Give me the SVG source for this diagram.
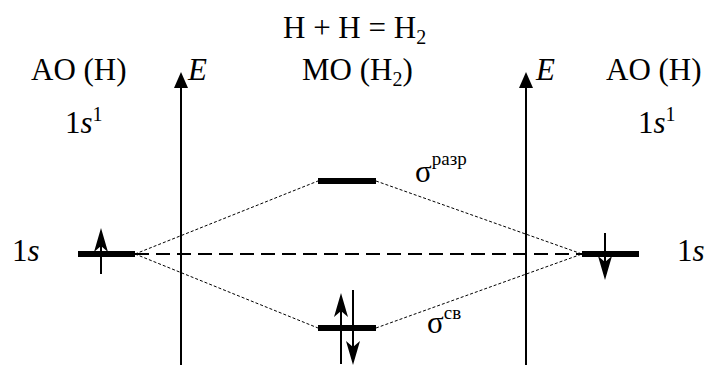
<svg xmlns="http://www.w3.org/2000/svg" width="705" height="365" viewBox="0 0 705 365">
<defs>
<path id="ehead" d="M0,0 L7,24 L0,18 L-7,24 Z" fill="#000"/>
<path id="axhead" d="M0,0 L7,16 L-7,16 Z" fill="#000"/>
</defs>
<g id="titles" fill="#000" font-size="31" font-family="Liberation Serif">
<text x="283" y="38" font-family="Liberation Serif" font-size="31">H + H = H<tspan font-size="20" dy="6">2</tspan></text>
<text x="31" y="80" font-family="Liberation Serif" font-size="31">AO (H)</text>
<text x="302" y="80" font-family="Liberation Serif" font-size="31">MO (H<tspan font-size="20" dy="6">2</tspan><tspan dy="-6">)</tspan></text>
<text x="606" y="80" font-family="Liberation Serif" font-size="31">AO (H)</text>
</g>
<g id="connectors" fill="none" stroke="#000">
<line stroke-width="1" stroke-dasharray="3 2" x1="135" y1="254" x2="318" y2="181"/>
<line stroke-width="1" stroke-dasharray="3 2" x1="376" y1="181" x2="582" y2="254"/>
<line stroke-width="1" stroke-dasharray="3 2" x1="135" y1="254" x2="318" y2="328"/>
<line stroke-width="1" stroke-dasharray="3 2" x1="376" y1="328" x2="582" y2="254"/>
<line stroke-width="2" stroke-dasharray="14 7" x1="135" y1="254" x2="582" y2="254"/>
</g>
<g id="axis-left">
<line stroke="#000" stroke-width="2" x1="181" y1="86" x2="181" y2="365"/>
<use href="#axhead" x="181" y="72"/>
<text x="188" y="80" font-family="Liberation Serif" font-size="31" font-style="italic">E</text>
</g>
<g id="axis-right">
<line stroke="#000" stroke-width="2" x1="526" y1="86" x2="526" y2="365"/>
<use href="#axhead" x="526" y="72"/>
<text x="536" y="80" font-family="Liberation Serif" font-size="31" font-style="italic">E</text>
</g>
<g id="ao-left">
<text x="65" y="133" font-family="Liberation Serif" font-size="31">1<tspan font-style="italic">s</tspan><tspan font-size="20" dy="-12">1</tspan></text>
<text x="12" y="261" font-family="Liberation Serif" font-size="31">1<tspan font-style="italic">s</tspan></text>
<rect fill="#000" x="78" y="251" width="57" height="6"/>
<line stroke="#000" stroke-width="2" x1="101" y1="246" x2="101" y2="274"/>
<use href="#ehead" x="101" y="228"/>
</g>
<g id="mo-antibonding">
<rect fill="#000" x="318" y="178" width="58" height="6"/>
<text x="415" y="182" font-family="Liberation Serif" font-size="31">σ<tspan font-size="19" dy="-17">разр</tspan></text>
</g>
<g id="mo-bonding">
<rect fill="#000" x="318" y="325" width="58" height="6"/>
<line stroke="#000" stroke-width="2" x1="341" y1="311" x2="341" y2="364"/>
<use href="#ehead" x="341" y="293"/>
<line stroke="#000" stroke-width="2" x1="353" y1="290" x2="353" y2="347"/>
<use href="#ehead" x="353" y="365" transform="rotate(180 353 365)"/>
<text x="427" y="333" font-family="Liberation Serif" font-size="31">σ<tspan font-size="19" dy="-14">св</tspan></text>
</g>
<g id="ao-right">
<text x="638" y="133" font-family="Liberation Serif" font-size="31">1<tspan font-style="italic">s</tspan><tspan font-size="20" dy="-12">1</tspan></text>
<text x="677" y="261" font-family="Liberation Serif" font-size="31">1<tspan font-style="italic">s</tspan></text>
<rect fill="#000" x="582" y="251" width="57" height="6"/>
<line stroke="#000" stroke-width="2" x1="605" y1="233" x2="605" y2="262"/>
<use href="#ehead" x="605" y="280" transform="rotate(180 605 280)"/>
</g>
</svg>
